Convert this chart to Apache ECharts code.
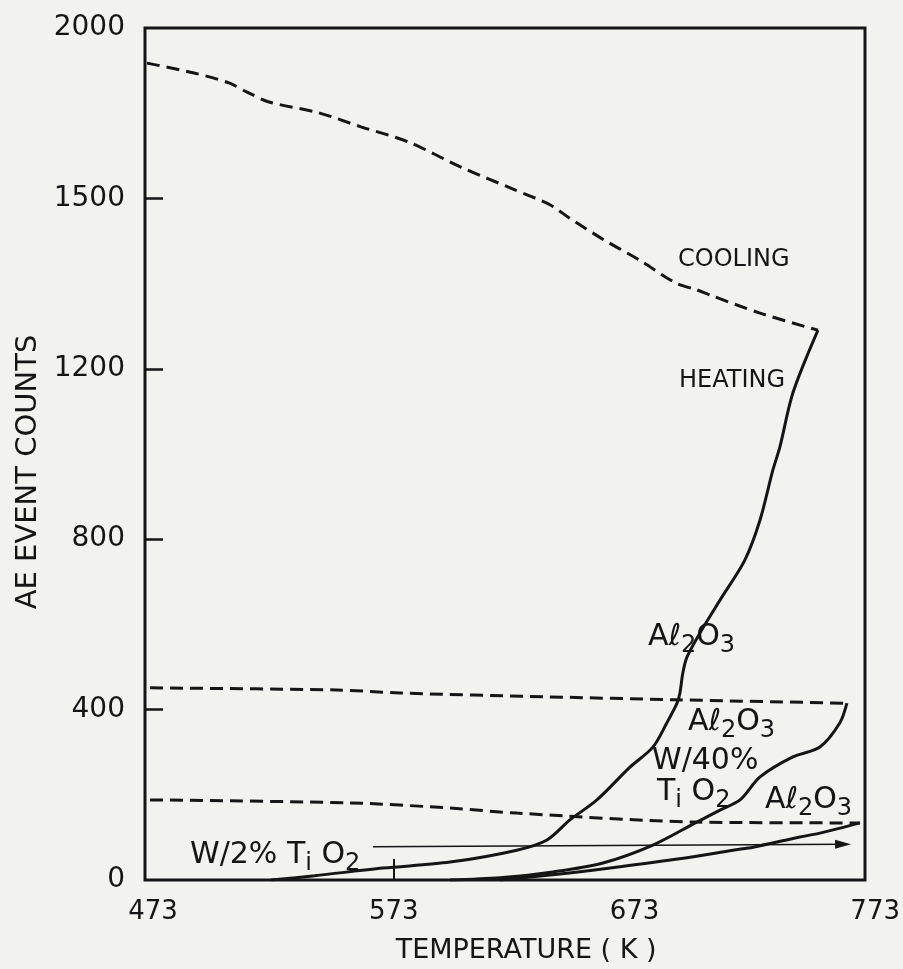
<!DOCTYPE html>
<html>
<head>
<meta charset="utf-8">
<script src="https://cdn.jsdelivr.net/npm/echarts@6/dist/echarts.min.js"></script>
<style>
  html, body { margin: 0; padding: 0; background: #f2f2ef; }
  #main { width: 903px; height: 969px; }
</style>
</head>
<body>
<div id="main"></div>
<script>
// tick labels of the (hand drawn, unevenly spaced) count axis
var yTicks = [0, 400, 800, 1200, 1500, 2000];
var xTicks = [473, 573, 673, 773];

// Al2O3 cooling (dashed, top)
var coolAlT = [470.5, 490.0, 504.5, 512.0, 521.1, 541.8, 559.2, 578.7, 600.6, 623.0, 637.9, 645.4, 659.9, 674.8, 689.7, 698.4, 703.8, 724.6, 748.6];
var coolAlC = [1897, 1868, 1839, 1812, 1783, 1751, 1710, 1666, 1592, 1525, 1488, 1466, 1427, 1391, 1351, 1339, 1330, 1298, 1268];
// Al2O3 heating
var heatAlT = [522, 540, 568.3, 596.1, 623.8, 636.3, 645.8, 657.0, 670.7, 680.2, 686.0, 690.2, 691.4, 692.6, 694.3, 699.7, 708.0, 718.3, 724.6, 729.9, 732.8, 738.2, 748.6];
var heatAlC = [0, 10, 28, 42, 70, 94, 141, 188, 265, 312, 369, 415, 439, 486, 523, 580, 657, 751, 845, 962, 1016, 1143, 1268];
// Al2O3 w/40% TiO2
var coolW40T = [471.8, 549.3, 575.4, 636.3, 690.2, 760.6];
var coolW40C = [451, 446, 439, 430, 423, 415];
var heatW40T = [596.1, 616.8, 638.8, 659.5, 680.2, 698.4, 708.0, 716.3, 724.6, 738.2, 749.4, 757.7, 760.6];
var heatW40C = [0, 5, 19, 40, 82, 136, 164, 188, 242, 289, 312, 369, 415];
// lower Al2O3
var coolLowT = [471.8, 554.6, 596.1, 623.8, 698.4, 766.0];
var coolLowC = [188, 181, 169, 157, 136, 134];
var heatLowT = [616.8, 644.6, 666.5, 694.3, 713.4, 721.7, 741.1, 749.4, 766.0];
var heatLowC = [0, 16, 31, 52, 70, 77, 101, 110, 134];
// W/2% TiO2 arrow line
var w2T = [564.2, 759.0];
var w2C = [78, 84];

// count -> position on the piecewise axis (one unit per tick)
function toAxis(c) {
  for (var i = 0; i < yTicks.length - 1; i++) {
    if (c <= yTicks[i + 1]) return i + (c - yTicks[i]) / (yTicks[i + 1] - yTicks[i]);
  }
  return yTicks.length - 1;
}
function pts(t, c) {
  return t.map(function (v, i) { return [v, toAxis(c[i])]; });
}

var ink = '#151515';
var font = 'DejaVu Sans';

function curve(t, c, dashed) {
  return {
    type: 'line',
    xAxisIndex: 0,
    yAxisIndex: 0,
    data: pts(t, c),
    smooth: 0.3,
    symbol: 'none',
    lineStyle: { color: ink, width: 3, type: dashed ? [13, 7] : 'solid' },
    silent: true,
    animation: false
  };
}

var rich = {
  n: { fontFamily: font, fontSize: 30, color: ink, lineHeight: 30, verticalAlign: 'top' },
  s: { fontFamily: font, fontSize: 24, color: ink, lineHeight: 24, padding: [18, 0, 0, 0] }
};
function lbl(text, x, y, size) {
  return {
    type: 'text', x: x, y: y, silent: true,
    style: size
      ? { text: text, fill: ink, font: size + 'px ' + font }
      : { text: text, rich: rich, fill: ink }
  };
}

var myChart = echarts.init(document.getElementById('main'));

var arrowData = pts(w2T, w2C);
arrowData[1] = { value: arrowData[1], symbol: 'triangle', symbolSize: [9, 16], symbolRotate: -90 };

var option = {
  backgroundColor: '#f2f2ef',
  animation: false,
  grid: [
    { left: 145, right: 38, top: 28, bottom: 89, show: true, borderColor: ink, borderWidth: 3 },
    { left: 153, right: 26, top: 28, bottom: 89, show: false }
  ],
  xAxis: [
    {
      gridIndex: 0, type: 'value', min: 469.7, max: 768.1,
      axisLine: { show: false }, axisTick: { show: false },
      axisLabel: { show: false }, splitLine: { show: false }
    },
    {
      gridIndex: 1, type: 'value', min: 473, max: 773, interval: 100,
      axisLine: { show: false },
      axisTick: { show: true, inside: true, length: 20, customValues: [573], lineStyle: { color: ink, width: 2 } },
      axisLabel: { fontFamily: font, fontSize: 26, color: ink, margin: 20,
        customValues: xTicks },
      splitLine: { show: false },
      name: 'TEMPERATURE ( K )',
      nameLocation: 'middle',
      nameGap: 58,
      nameTextStyle: { fontFamily: font, fontSize: 27, color: ink, padding: [0, 0, 0, 24] }
    }
  ],
  yAxis: [
    {
      gridIndex: 0, type: 'value', min: 0, max: 5, interval: 1,
      axisLine: { show: false },
      axisTick: { show: true, inside: true, length: 18, customValues: [1, 2, 3, 4], lineStyle: { color: ink, width: 2.5 } },
      axisLabel: {
        fontFamily: font, fontSize: 28, color: ink, margin: 20,
        formatter: function (v) { return yTicks[Math.round(v)]; }
      },
      splitLine: { show: false },
      name: 'AE EVENT COUNTS',
      nameLocation: 'middle',
      nameGap: 100,
      nameTextStyle: { fontFamily: font, fontSize: 29, color: ink, padding: [0, 36, 0, 0] }
    },
    { gridIndex: 1, type: 'value', min: 0, max: 5, show: false }
  ],
  series: [
    curve(coolAlT, coolAlC, true),
    curve(heatAlT, heatAlC, false),
    curve(coolW40T, coolW40C, true),
    curve(heatW40T, heatW40C, false),
    curve(coolLowT, coolLowC, true),
    curve(heatLowT, heatLowC, false),
    {
      type: 'line', xAxisIndex: 0, yAxisIndex: 0,
      data: arrowData,
      symbol: 'none', showSymbol: true,
      itemStyle: { color: ink },
      lineStyle: { color: ink, width: 1.5 },
      silent: true, animation: false
    }
  ],
  graphic: [
    lbl('COOLING', 678, 248, 24),
    lbl('HEATING', 679, 369, 24),
    lbl('{n|Aℓ}{s|2}{n|O}{s|3}', 648, 622),
    lbl('{n|Aℓ}{s|2}{n|O}{s|3}', 688, 707),
    lbl('W/40%', 652, 746, 30),
    lbl('{n|T}{s|i}{n| O}{s|2}', 657, 777),
    lbl('{n|Aℓ}{s|2}{n|O}{s|3}', 765, 785),
    lbl('{n|W/2% T}{s|i}{n| O}{s|2}', 190, 840)
  ]
};

myChart.setOption(option);
</script>
</body>
</html>
